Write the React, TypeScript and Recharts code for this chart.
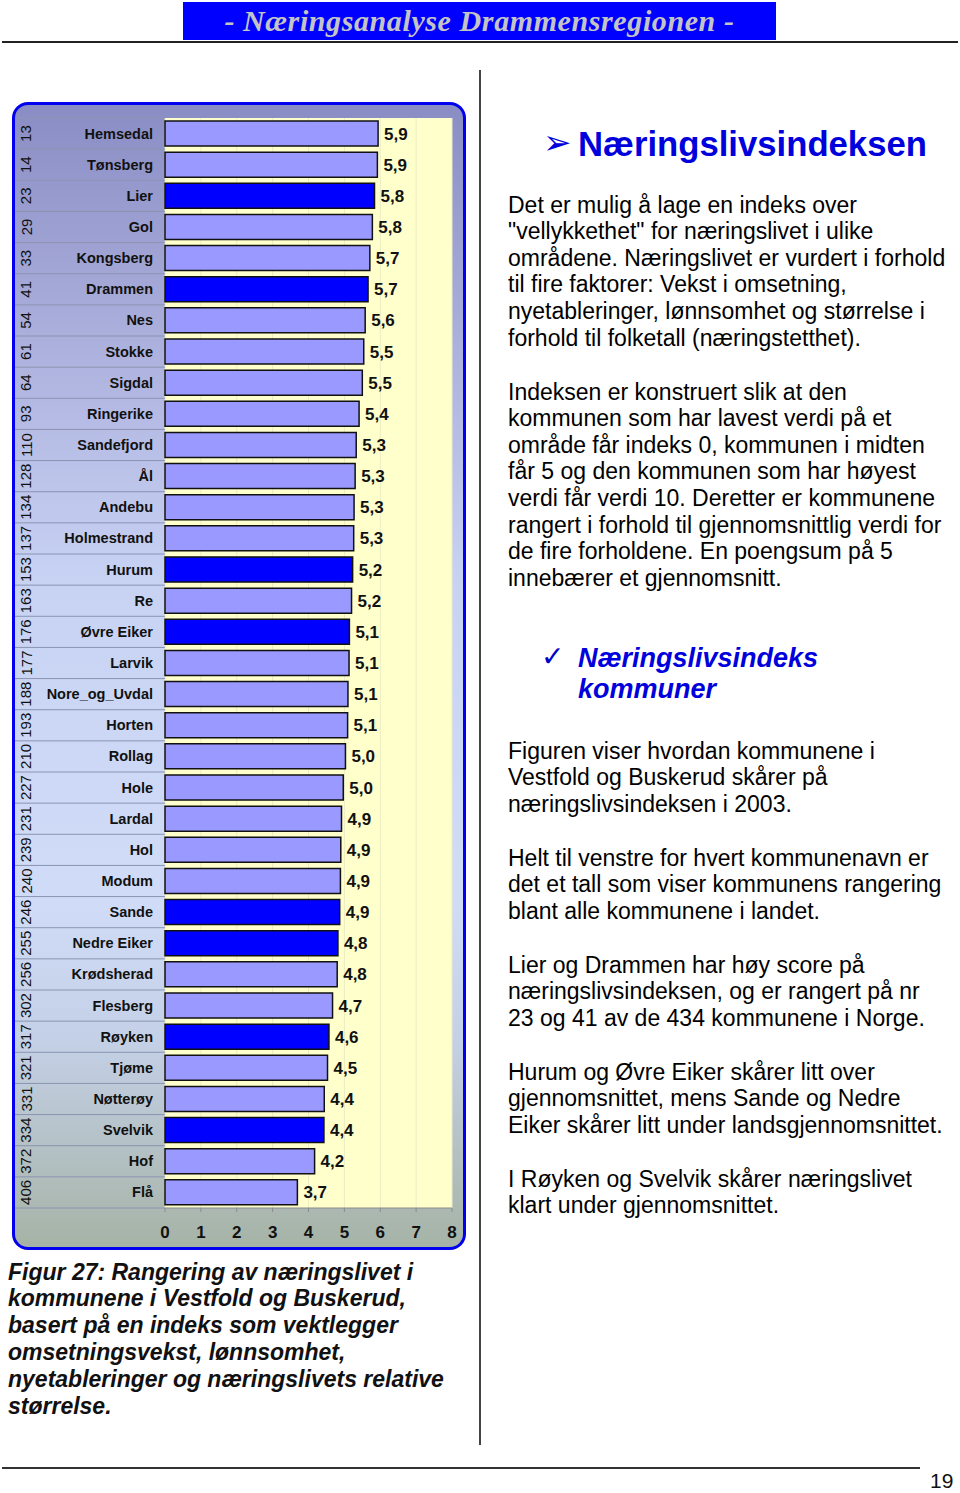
import React from 'react';
import { BarChart, Bar, XAxis, YAxis, CartesianGrid, LabelList, Cell } from 'recharts';

// municipalities, top to bottom as in the figure
const municipalities = [
  'Hemsedal', 'Tønsberg', 'Lier', 'Gol', 'Kongsberg', 'Drammen', 'Nes', 'Stokke', 'Sigdal',
  'Ringerike', 'Sandefjord', 'Ål', 'Andebu', 'Holmestrand', 'Hurum', 'Re', 'Øvre Eiker',
  'Larvik', 'Nore_og_Uvdal', 'Horten', 'Rollag', 'Hole', 'Lardal', 'Hol', 'Modum', 'Sande',
  'Nedre Eiker', 'Krødsherad', 'Flesberg', 'Røyken', 'Tjøme', 'Nøtterøy', 'Svelvik', 'Hof', 'Flå',
];

// national ranking (of 434)
const ranks = [
  13, 14, 23, 29, 33, 41, 54, 61, 64, 93, 110, 128, 134, 137, 153, 163, 176, 177,
  188, 193, 210, 227, 231, 239, 240, 246, 255, 256, 302, 317, 321, 331, 334, 372, 406,
];

// index score (0-10 scale)
const scores = [
  5.94, 5.92, 5.84, 5.78, 5.71, 5.66, 5.58, 5.54, 5.5, 5.41, 5.33, 5.3, 5.27, 5.26,
  5.23, 5.2, 5.14, 5.13, 5.1, 5.09, 5.03, 4.97, 4.92, 4.9, 4.89, 4.87, 4.82, 4.8,
  4.67, 4.57, 4.53, 4.44, 4.43, 4.17, 3.69,
];

// Drammensregionen members get the dark bars
const regionMembers = ['Lier', 'Drammen', 'Hurum', 'Øvre Eiker', 'Sande', 'Nedre Eiker', 'Røyken', 'Svelvik'];

const xTicks = [0, 1, 2, 3, 4, 5, 6, 7, 8];

const data = municipalities.map((name, i) => ({ name, rank: ranks[i], score: scores[i] }));

const CHART_W = 448;
const CHART_H = 1142;
const MARGIN = { top: 13, right: 11, left: 0, bottom: 0 };
const X_AXIS_H = 39;
const Y_AXIS_W = 150;
const ROW_H = (CHART_H - MARGIN.top - X_AXIS_H) / municipalities.length;

const sans = '"Liberation Sans", Arial, Helvetica, sans-serif';

function RowTick(props: any) {
  const { y, payload, index } = props;
  const half = ROW_H / 2;
  return (
    <g>
      {index === 0 && <line x1={0} x2={Y_AXIS_W} y1={y - half} y2={y - half} stroke="#8a94b2" strokeWidth={1} />}
      <line x1={0} x2={Y_AXIS_W} y1={y + half} y2={y + half} stroke="#8a94b2" strokeWidth={1} />
      <text
        x={11}
        y={y}
        transform={`rotate(-90 11 ${y})`}
        textAnchor="middle"
        dominantBaseline="central"
        fontFamily={sans}
        fontSize={15}
        fill="#111"
      >
        {ranks[index]}
      </text>
      <text
        x={138}
        y={y}
        textAnchor="end"
        dominantBaseline="central"
        fontFamily={sans}
        fontSize={14.5}
        fontWeight="bold"
        fill="#111"
      >
        {payload.value}
      </text>
    </g>
  );
}

const fmt = (v: any) => Number(v).toFixed(1).replace('.', ',');

function IndexChart() {
  return (
    <div
      style={{
        position: 'absolute',
        left: 12,
        top: 102,
        width: 454,
        height: 1148,
        boxSizing: 'border-box',
        border: '3px solid #0000ee',
        borderRadius: 16,
        overflow: 'hidden',
        background:
          'linear-gradient(to bottom, #8a8dc4 0%, #aeb2de 22%, #c8d3f4 42%, #d0dcf7 70%, #c4d0e6 82%, #a6b3a6 100%)',
      }}
    >
      <BarChart
        width={CHART_W}
        height={CHART_H}
        data={data}
        layout="vertical"
        margin={MARGIN}
        barSize={25}
      >
        <CartesianGrid horizontal={false} vertical fill="#ffffcc" fillOpacity={1} stroke="#ececc4" />
        <XAxis
          type="number"
          domain={[0, 8]}
          ticks={xTicks}
          interval={0}
          height={X_AXIS_H}
          axisLine={{ stroke: '#8a8a8a' }}
          tickLine={{ stroke: '#8a8a8a' }}
          tickSize={4}
          tickMargin={14}
          tick={{ fontFamily: sans, fontSize: 17, fontWeight: 'bold', fill: '#111' }}
        />
        <YAxis
          type="category"
          dataKey="name"
          width={Y_AXIS_W}
          axisLine={false}
          tickLine={false}
          interval={0}
          tick={(p: any) => <RowTick {...p} />}
        />
        <Bar dataKey="score" stroke="#111" strokeWidth={1.5} isAnimationActive={false}>
          {data.map((d) => (
            <Cell key={d.name} fill={regionMembers.includes(d.name) ? '#0000ff' : '#9999ff'} />
          ))}
          <LabelList
            dataKey="score"
            position="right"
            offset={6}
            formatter={fmt}
            style={{ fontFamily: sans, fontSize: 17, fontWeight: 'bold', fill: '#111' }}
          />
        </Bar>
      </BarChart>
    </div>
  );
}

const bodyText: React.CSSProperties = {
  position: 'absolute',
  left: 508,
  fontFamily: sans,
  fontSize: 23,
  lineHeight: '26.6px',
  color: '#000',
  whiteSpace: 'nowrap',
};

const paragraphs: { top: number; lines: string[] }[] = [
  {
    top: 191.7,
    lines: [
      'Det er mulig å lage en indeks over',
      '"vellykkethet" for næringslivet i ulike',
      'områdene. Næringslivet er vurdert i forhold',
      'til fire faktorer: Vekst i omsetning,',
      'nyetableringer, lønnsomhet og størrelse i',
      'forhold til folketall (næringstetthet).',
    ],
  },
  {
    top: 378.7,
    lines: [
      'Indeksen er konstruert slik at den',
      'kommunen som har lavest verdi på et',
      'område får indeks 0, kommunen i midten',
      'får 5 og den kommunen som har høyest',
      'verdi får verdi 10. Deretter er kommunene',
      'rangert i forhold til gjennomsnittlig verdi for',
      'de fire forholdene.  En poengsum på 5',
      'innebærer et gjennomsnitt.',
    ],
  },
  {
    top: 737.7,
    lines: [
      'Figuren viser hvordan kommunene i',
      'Vestfold og Buskerud skårer på',
      'næringslivsindeksen i 2003.',
    ],
  },
  {
    top: 844.7,
    lines: [
      'Helt til venstre for hvert kommunenavn er',
      'det et tall som viser kommunens rangering',
      'blant alle kommunene i landet.',
    ],
  },
  {
    top: 951.7,
    lines: [
      'Lier og Drammen har høy score på',
      'næringslivsindeksen, og er rangert på nr',
      '23 og 41 av de 434 kommunene i Norge.',
    ],
  },
  {
    top: 1058.7,
    lines: [
      'Hurum og Øvre Eiker skårer litt over',
      'gjennomsnittet, mens Sande og Nedre',
      'Eiker skårer litt under landsgjennomsnittet.',
    ],
  },
  {
    top: 1165.7,
    lines: ['I Røyken og Svelvik skårer næringslivet', 'klart under gjennomsnittet.'],
  },
];

const captionLines = [
  'Figur 27: Rangering av næringslivet i',
  'kommunene i Vestfold og Buskerud,',
  'basert på en indeks som vektlegger',
  'omsetningsvekst, lønnsomhet,',
  'nyetableringer og næringslivets relative',
  'størrelse.',
];

export default function App() {
  return (
    <div style={{ position: 'relative', width: 960, height: 1493, background: '#fff', overflow: 'hidden' }}>
      <style>{'body{margin:0}'}</style>

      {/* page header */}
      <div
        style={{
          position: 'absolute',
          left: 183,
          top: 2,
          width: 593,
          height: 38,
          background: '#0000ff',
          color: '#c4c4c4',
          fontFamily: '"Liberation Serif", "Times New Roman", serif',
          fontStyle: 'italic',
          fontWeight: 'bold',
          fontSize: 30,
          lineHeight: '38px',
          textAlign: 'center',
          letterSpacing: 0.6,
          whiteSpace: 'nowrap',
        }}
      >
        - Næringsanalyse Drammensregionen -
      </div>
      <div style={{ position: 'absolute', left: 2, top: 41, width: 956, height: 2, background: '#222' }} />

      {/* column divider */}
      <div style={{ position: 'absolute', left: 479, top: 70, width: 2, height: 1375, background: '#444' }} />

      <IndexChart />

      {/* figure caption */}
      <div
        style={{
          position: 'absolute',
          left: 8,
          top: 1258.6,
          fontFamily: sans,
          fontStyle: 'italic',
          fontWeight: 'bold',
          fontSize: 23,
          lineHeight: '26.8px',
          color: '#111',
          whiteSpace: 'nowrap',
        }}
      >
        {captionLines.map((l) => (
          <div key={l}>{l}</div>
        ))}
      </div>

      {/* right column */}
      <div
        style={{
          position: 'absolute',
          left: 543,
          top: 122,
          color: '#0000dd',
          fontFamily: '"DejaVu Sans", sans-serif',
          fontSize: 34,
          lineHeight: '40px',
        }}
      >
        ➢
      </div>
      <div
        style={{
          position: 'absolute',
          left: 578,
          top: 124,
          color: '#0000dd',
          fontFamily: sans,
          fontWeight: 'bold',
          fontSize: 34.7,
          lineHeight: '40px',
          whiteSpace: 'nowrap',
        }}
      >
        Næringslivsindeksen
      </div>

      {paragraphs.map((p) => (
        <div key={p.top} style={{ ...bodyText, top: p.top }}>
          {p.lines.map((l) => (
            <div key={l}>{l}</div>
          ))}
        </div>
      ))}

      <div
        style={{
          position: 'absolute',
          left: 541,
          top: 641,
          color: '#0000cc',
          fontFamily: '"DejaVu Sans", sans-serif',
          fontSize: 28,
          lineHeight: '31px',
        }}
      >
        ✓
      </div>
      <div
        style={{
          position: 'absolute',
          left: 578,
          top: 642.5,
          color: '#0000dd',
          fontFamily: sans,
          fontWeight: 'bold',
          fontStyle: 'italic',
          fontSize: 27,
          lineHeight: '31px',
          whiteSpace: 'nowrap',
        }}
      >
        <div>Næringslivsindeks</div>
        <div>kommuner</div>
      </div>

      {/* footer */}
      <div style={{ position: 'absolute', left: 2, top: 1467, width: 918, height: 2, background: '#333' }} />
      <div
        style={{
          position: 'absolute',
          left: 930,
          top: 1468,
          fontFamily: sans,
          fontSize: 21,
          lineHeight: '26px',
          color: '#111',
        }}
      >
        19
      </div>
    </div>
  );
}
